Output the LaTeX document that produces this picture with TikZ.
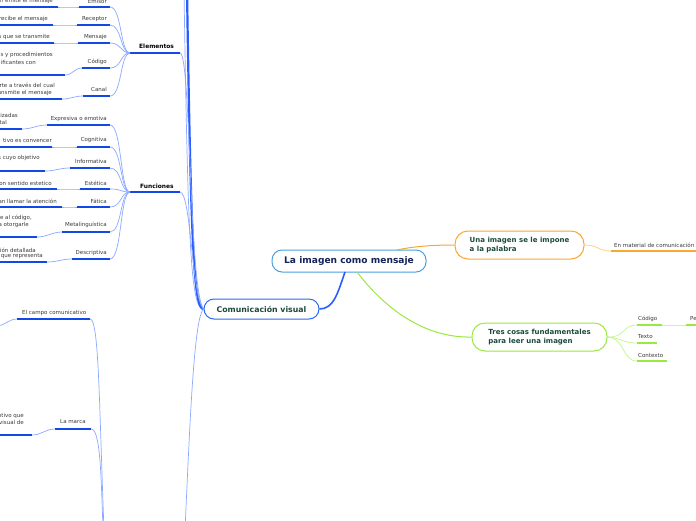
\documentclass[tikz,border=0pt]{standalone}
\usepackage{fontspec}
\setmainfont{DejaVu Sans}
\usetikzlibrary{calc}
\definecolor{cborder}{HTML}{4AA0DC}
\definecolor{ctext}{HTML}{16235A}
\definecolor{comborder}{HTML}{2F6BF0}
\definecolor{gtext}{HTML}{1B4A3A}
\definecolor{bthick}{HTML}{2A5CFF}
\definecolor{blight}{HTML}{8CA9FF}
\definecolor{ulblue}{HTML}{1348E8}
\definecolor{orng}{HTML}{F7A832}
\definecolor{orngl}{HTML}{FBD18E}
\definecolor{lime}{HTML}{9BE840}
\definecolor{limel}{HTML}{C8F59A}
\definecolor{lgray}{HTML}{3A3A3A}
\newcommand\lblfont{\fontsize{5.5}{6.5}\selectfont}
\begin{document}
\begin{tikzpicture}[x=1pt,y=-1pt,
  lbl/.style={font=\lblfont, text=lgray, inner sep=0pt},
  hdr/.style={font=\bfseries\fontsize{5.9}{7}\selectfont, text=black, inner sep=0pt},
  ul/.style={draw=ulblue, line width=1.4pt},
  lc/.style={draw=blight, line width=0.7pt},
  thk/.style={draw=bthick, line width=2.2pt},
  oul/.style={draw=orng, line width=1.4pt},
  gul/.style={draw=lime, line width=1.4pt},
]
\useasboundingbox (0,0) rectangle (696,520);
\clip (0,0) rectangle (696,520);
\fill[white] (0,0) rectangle (696,520);

% ---------- main nodes
\node[draw=cborder, line width=1pt, rounded corners=10pt, minimum width=154pt, minimum height=22pt, inner sep=0pt,
  font=\bfseries\fontsize{9.1}{10}\selectfont, text=ctext] (center) at (349,261) {La imagen como mensaje};
\node[draw=comborder, line width=1pt, rounded corners=10pt, minimum width=115pt, minimum height=20pt, inner sep=0pt,
  font=\bfseries\fontsize{7.8}{8}\selectfont, text=gtext] (com) at (261.5,309) {Comunicación visual};
\node[draw=orng, line width=1pt, rounded corners=13pt, minimum width=129pt, minimum height=28pt, inner sep=0pt,
  align=left, font=\bfseries\fontsize{7}{9.5}\selectfont, text=gtext] (una) at (519.5,245)
  {Una imagen se le impone\\a la palabra};
\node[draw=lime, line width=1pt, rounded corners=13pt, minimum width=135pt, minimum height=28pt, inner sep=0pt,
  align=left, font=\bfseries\fontsize{7}{9.5}\selectfont, text=gtext] (tres) at (539.5,337)
  {Tres cosas fundamentales\\para leer una imagen};

% connectors from center
\coordinate (cb1) at (345,272);
\coordinate (cb2) at (357,272);
\coordinate (ct1) at (397,250);
\draw[draw=bthick, line width=1.6pt] (cb1) .. controls (338,292) and (334,309) .. (com.east);
\draw[draw=orng, line width=1pt] (ct1) .. controls (415,246) and (435,245) .. (una.west);
\draw[draw=lime, line width=1pt] (cb2) .. controls (390,315) and (430,338) .. (tres.west);

% orange child
\node[lbl, anchor=west] (mat) at (614,245) {En material de comunicación};
\coordinate (matL) at (611,251); \coordinate (matR) at (700,251);
\draw[oul] (matL) -- (matR);
\draw[draw=orngl, line width=0.8pt] (una.east) .. controls (598,245) and (598,251) .. (matL);

% green children
\node[lbl, anchor=west] (gcod) at (638,319) {Código};
\node[lbl, anchor=west] (gtex) at (638,337) {Texto};
\node[lbl, anchor=west] (gcon) at (638,355) {Contexto};
\node[lbl, anchor=west] (gpe) at (690,319) {Pe};
\coordinate (gcodL) at (637,325); \coordinate (gcodR) at (662,325);
\coordinate (gtexL) at (637,343); \coordinate (gtexR) at (657,343);
\coordinate (gconL) at (637,361); \coordinate (gconR) at (667,361);
\coordinate (gpeL) at (686,325); \coordinate (gpeR) at (700,325);
\draw[gul] (gcodL) -- (gcodR);
\draw[gul] (gtexL) -- (gtexR);
\draw[gul] (gconL) -- (gconR);
\draw[gul] (gpeL) -- (gpeR);
\draw[draw=limel, line width=0.8pt] (tres.east) .. controls (625,338) and (622,325) .. (gcodL);
\draw[draw=limel, line width=0.8pt] (tres.east) .. controls (622,338) and (622,343) .. (gtexL);
\draw[draw=limel, line width=0.8pt] (tres.east) .. controls (625,338) and (622,361) .. (gconL);
\draw[draw=limel, line width=0.8pt] (gcodR) -- (gpeL);

% ---------- left: upward bundle
\coordinate (topA) at (187,-10);
\coordinate (topB) at (184,-10);
\draw[lc] (topB) .. controls (188,250) and (191,309) .. (com.west);
\draw[thk] (topA) .. controls (191,250) and (194,309) .. (com.west);

% ---------- Elementos
\node[hdr, anchor=west] (elem) at (139,46.5) {Elementos};
\coordinate (elemL) at (130,53); \coordinate (elemR) at (180,53);
\draw[ul] (elemL) -- (elemR);
\draw[lc] (elemR) .. controls (191,53) and (189,290) .. (com.west);

\node[lbl, anchor=east] (emi) at (107,1) {Emisor};
\node[lbl, anchor=east] (rec) at (107,19) {Receptor};
\node[lbl, anchor=east] (men) at (107,37) {Mensaje};
\node[lbl, anchor=east] (cod) at (107,62) {Código};
\node[lbl, anchor=east] (can) at (107,89) {Canal};
\coordinate (emiL) at (79,7);  \coordinate (emiR) at (110,7);
\coordinate (recL) at (77,25); \coordinate (recR) at (110,25);
\coordinate (menL) at (78,43); \coordinate (menR) at (110,43);
\coordinate (codL) at (82,68); \coordinate (codR) at (110,68);
\coordinate (canL) at (83,96); \coordinate (canR) at (110,96);
\foreach \n in {emi,rec,men,cod,can}{
  \draw[ul] (\n L) -- (\n R);
  \draw[lc] (\n R) .. controls +(12,0) and +(-10,0) .. (elemL);
}
% fragments of the next level
\node[lbl, anchor=east] (emiF) at (53,1) {n emite el mensaje};
\node[lbl, anchor=east] (recF) at (48,19) {recibe el mensaje};
\node[lbl, anchor=east] (menF) at (50,37) {s que se transmite};
\node[lbl, anchor=east] (codF1) at (53,55) {s y procedimientos};
\node[lbl, anchor=east] (codF2) at (36,62) {ificantes con};
\node[lbl, anchor=east] (canF1) at (55,85) {rte a través del cual};
\node[lbl, anchor=east] (canF2) at (52,93) {ansmite el mensaje};
\coordinate (emiFL) at (-5,7);  \coordinate (emiFR) at (58,7);
\coordinate (recFL) at (-5,25); \coordinate (recFR) at (53,25);
\coordinate (menFL) at (-5,43); \coordinate (menFR) at (54,43);
\coordinate (codFL) at (-5,75); \coordinate (codFR) at (65,75);
\coordinate (canFL) at (-5,99); \coordinate (canFR) at (62,99);
\foreach \n in {emi,rec,men,cod,can}{
  \draw[ul] (\n FL) -- (\n FR);
  \draw[lc] (\n FR) .. controls +(8,0) and +(-8,0) .. (\n L);
}

% ---------- Funciones
\node[hdr, anchor=west] (fun) at (140,186) {Funciones};
\coordinate (funL) at (130,192); \coordinate (funR) at (180,192);
\draw[ul] (funL) -- (funR);
\draw[lc] (funR) .. controls (191,192) and (192,298) .. (com.west);

\node[lbl, anchor=east] (exp) at (107,119) {Expresiva o emotiva};
\node[lbl, anchor=east] (cog) at (107,140) {Cognitiva};
\node[lbl, anchor=east] (inf) at (107,161) {Informativa};
\node[lbl, anchor=east] (est) at (107,183) {Estética};
\node[lbl, anchor=east] (fat) at (107,201) {Fática};
\node[lbl, anchor=east] (met) at (107,225) {Metalinguística};
\node[lbl, anchor=east] (des) at (107,253) {Descriptiva};
\coordinate (expL) at (47,125);  \coordinate (expR) at (110,125);
\coordinate (cogL) at (77,147);  \coordinate (cogR) at (110,147);
\coordinate (infL) at (70,168);  \coordinate (infR) at (110,168);
\coordinate (estL) at (80,189);  \coordinate (estR) at (110,189);
\coordinate (fatL) at (77,207);  \coordinate (fatR) at (110,207);
\coordinate (metL) at (62,232);  \coordinate (metR) at (110,232);
\coordinate (desL) at (72,259);  \coordinate (desR) at (110,259);
\foreach \n in {exp,cog,inf,est,fat,met,des}{
  \draw[ul] (\n L) -- (\n R);
  \draw[lc] (\n R) .. controls +(12,0) and +(-10,0) .. (funL);
}
\node[lbl, anchor=east] (expF1) at (18,115.7) {lizadas};
\node[lbl, anchor=east] (expF2) at (7,122) {tal};
\node[lbl, anchor=east] (cogF) at (52,140) {tivo es convencer};
\node[lbl, anchor=east] (infF) at (40,158) {s cuyo objetivo};
\node[lbl, anchor=east] (estF) at (52,183) {on sentido estetico};
\node[lbl, anchor=east] (fatF) at (57,201) {an llamar la atención};
\node[lbl, anchor=east] (metF1) at (32,218) {re al código,};
\node[lbl, anchor=east] (metF2) at (29,225) {a otorgarle};
\node[lbl, anchor=east] (desF1) at (36,250) {ción detallada};
\node[lbl, anchor=east] (desF2) at (43,256) {que representa};
\coordinate (expFL) at (-5,129); \coordinate (expFR) at (22,129);
\coordinate (cogFL) at (-5,147); \coordinate (cogFR) at (52,147);
\coordinate (infFL) at (-5,171); \coordinate (infFR) at (45,171);
\coordinate (estFL) at (-5,189); \coordinate (estFR) at (57,189);
\coordinate (fatFL) at (-5,207); \coordinate (fatFR) at (62,207);
\coordinate (metFL) at (-5,237); \coordinate (metFR) at (37,237);
\coordinate (desFL) at (-5,262); \coordinate (desFR) at (47,262);
\foreach \n in {exp,cog,inf,est,fat,met,des}{
  \draw[ul] (\n FL) -- (\n FR);
  \draw[lc] (\n FR) .. controls +(10,0) and +(-10,0) .. (\n L);
}

% ---------- downward part
\coordinate (botA) at (185,530);
\coordinate (botB) at (104,530);
\coordinate (botC) at (103,530);
\draw[lc] (com.west) .. controls (194,318) and (190,420) .. (botA);

\node[lbl, anchor=west] (campo) at (22,313) {El campo comunicativo};
\coordinate (campoL) at (17,319); \coordinate (campoR) at (90,319);
\draw[ul] (campoL) -- (campoR);
\draw[lc] (campoR) .. controls (99,319) and (99,400) .. (botB);
\coordinate (campoX) at (-5,326);
\draw[lc] (campoL) .. controls (8,319) and (6,326) .. (campoX);

\node[lbl, anchor=west] (marca) at (60,422) {La marca};
\coordinate (marcaL) at (55,429); \coordinate (marcaR) at (91,429);
\draw[ul] (marcaL) -- (marcaR);
\draw[lc] (marcaR) .. controls (100,429) and (101,470) .. (botC);
\node[lbl, anchor=east] (marF1) at (24,416) {ntivo que};
\node[lbl, anchor=east] (marF2) at (24,422) {visual de};
\coordinate (marFL) at (-5,435); \coordinate (marFR) at (32,435);
\draw[ul] (marFL) -- (marFR);
\draw[lc] (marFR) .. controls +(10,0) and +(-10,0) .. (marcaL);
\end{tikzpicture}
\end{document}
